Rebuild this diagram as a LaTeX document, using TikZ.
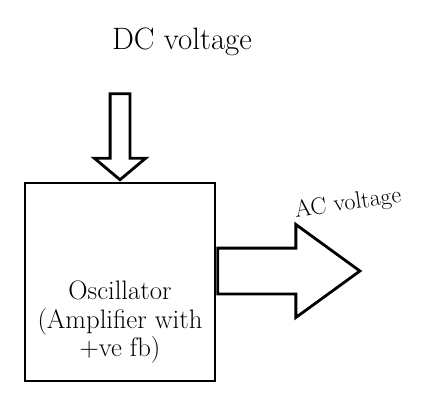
\documentclass[tikz,border=0pt]{standalone}
\usepackage{tikz}
\usetikzlibrary{shapes.arrows,positioning}

\begin{document}
\begin{tikzpicture}[x=0.025cm, y=-0.025cm,
    blk/.style={draw, line width=2pt, minimum width=4.75cm, minimum height=4.95cm},
    fatarrow/.style={draw, line width=2pt, single arrow, inner sep=0pt, minimum width=0pt, text depth=0pt},
    lbl/.style={font=\fontsize{22}{24}\selectfont}]
    \useasboundingbox[fill=white] (0,0) rectangle (445,396);
    \node (dc) [lbl] at (182,42) {DC voltage};
    \node (osc) [blk] at (120,282) {};
    \node (osctext) [align=center, font=\fontsize{19}{20}\selectfont] at (120,322) {Oscillator\\(Amplifier with\\+ve fb)};
    % input arrow into the box
    \node (dcarrow) [fatarrow, rotate=-90, text height=0.425cm, minimum height=2.15cm,
        single arrow head extend=0.39cm, single arrow tip angle=100, anchor=tip] at (osc.north) {};
    % output arrow
    \node (acarrow) [fatarrow, text height=1.075cm, minimum height=3.55cm,
        single arrow head extend=0.59cm, single arrow tip angle=72, anchor=tail]
        at ([yshift=0.275cm]osc.east) {};
    \node (ac) [font=\fontsize{17}{19}\selectfont, rotate=8] at (348,204) {AC voltage};
\end{tikzpicture}
\end{document}
